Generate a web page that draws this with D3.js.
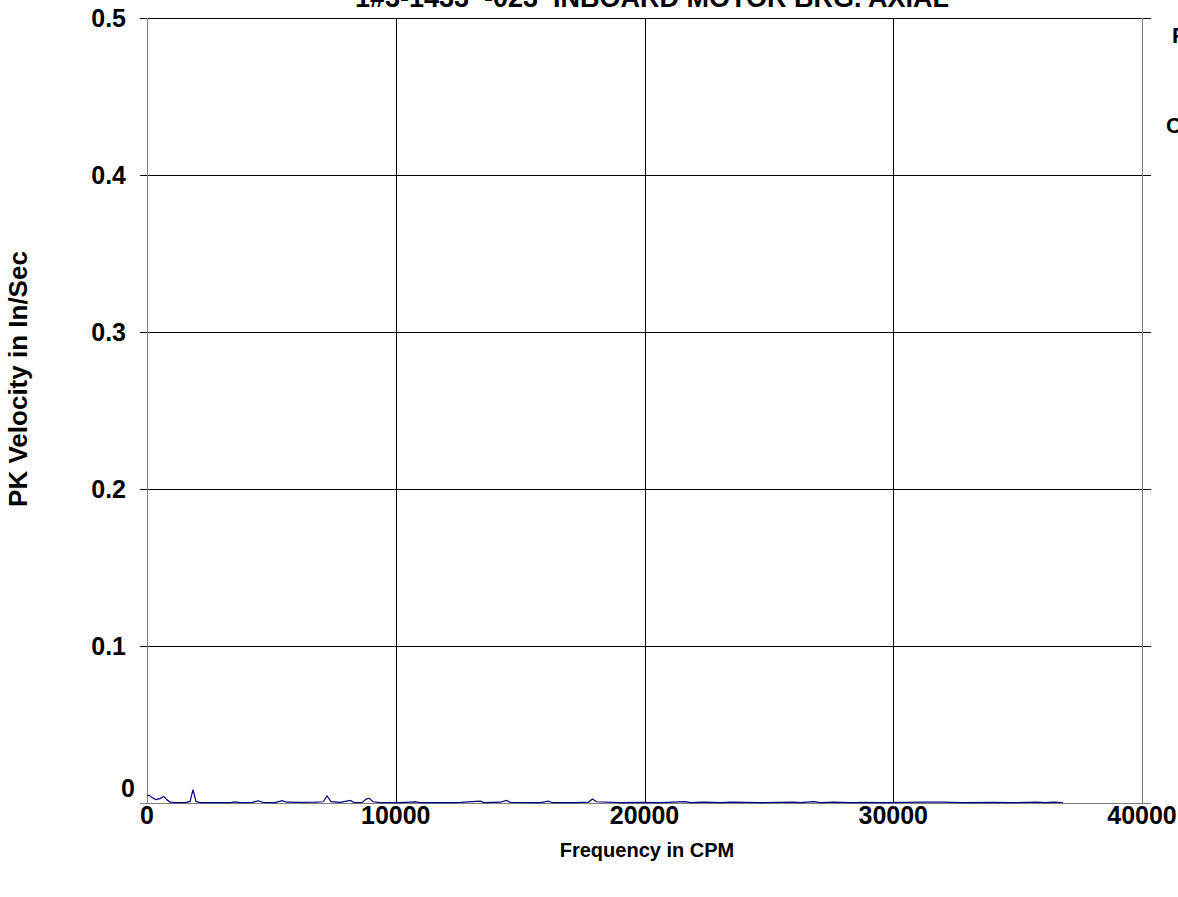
<!DOCTYPE html>
<html><head><meta charset="utf-8">
<script src="https://cdn.jsdelivr.net/npm/d3@7"></script>
<style>
html,body{margin:0;padding:0;background:#fff;overflow:hidden}
text{font-family:"Liberation Sans",Arial,sans-serif;font-weight:bold;fill:#000}
</style></head><body>
<svg id="c" width="1178" height="897"></svg>
<script>
const titleText = "1#3-1433  -023  INBOARD MOTOR BRG. AXIAL";
const xTitle = "Frequency in CPM";
const yTitle = "PK Velocity in In/Sec";
const sideLabels = ["F", "C"];
const xTicks = [0, 10000, 20000, 30000, 40000];
const yTicks = [0, 0.1, 0.2, 0.3, 0.4, 0.5];
const yTickLabels = ["0", "0.1", "0.2", "0.3", "0.4", "0.5"];
// spectrum: frequency (CPM) and peak velocity (in/sec)
const freqs = [0,80,200,360,520,680,800,930,1130,1530,1730,1850,1970,2130,2740,3340,3540,3740,4230,4470,4670,5150,5430,5630,6160,6760,7080,7240,7400,7770,8170,8330,8650,8810,8930,9090,9380,10180,10780,10990,12190,12600,13400,13560,14200,14450,14610,15810,16140,16300,17220,17750,17910,18070,19030,19840,20640,21650,21850,22370,23060,23460,24670,25990,26280,26800,27080,27600,28290,28810,29500,30580,31230,32030,32720,34040,34730,35730,36130,36460,36820];
const amps = [0.0045,0.005,0.0035,0.0022,0.0028,0.0042,0.002,0.0006,0.0003,0.0003,0.001,0.0085,0.001,0.0003,0.0002,0.0003,0.0007,0.0002,0.0004,0.0014,0.0004,0.0003,0.0015,0.0005,0.0004,0.0005,0.0008,0.0045,0.0009,0.0004,0.0016,0.0003,0.0004,0.0025,0.003,0.0008,0.0002,0.0002,0.0007,0.0002,0.0002,0.0004,0.0012,0.0003,0.0005,0.0016,0.0004,0.0002,0.0012,0.0002,0.0003,0.0006,0.0026,0.0008,0.0003,0.0004,0.0002,0.0009,0.0002,0.0005,0.0003,0.0005,0.0002,0.0005,0.0002,0.0009,0.0002,0.0005,0.0002,0.0004,0.0002,0.0004,0.0005,0.0006,0.0002,0.0004,0.0002,0.0006,0.0002,0.0005,0.0002];

const svg = d3.select("#c");
const L = 147, R = 1142, T = 18, B = 803;
const x = d3.scaleLinear().domain([0, 40000]).range([L, R]);
const y = d3.scaleLinear().domain([0, 0.5]).range([B, T]);

// horizontal gridlines
svg.append("g").selectAll("line").data(yTicks.filter(d => d > 0)).join("line")
  .attr("x1", L - 7).attr("x2", R + 9)
  .attr("y1", d => Math.round(y(d)) + 0.5).attr("y2", d => Math.round(y(d)) + 0.5)
  .attr("stroke", "#000").attr("stroke-width", 1);
// vertical gridlines
svg.append("g").selectAll("line").data(xTicks.filter(d => d > 0 && d < 40000)).join("line")
  .attr("x1", d => Math.round(x(d)) + 0.5).attr("x2", d => Math.round(x(d)) + 0.5)
  .attr("y1", T).attr("y2", B)
  .attr("stroke", "#000").attr("stroke-width", 1);
// axes frame lines
svg.append("line").attr("x1", L + 0.5).attr("x2", L + 0.5).attr("y1", T).attr("y2", B)
  .attr("stroke", "#808080");
svg.append("line").attr("x1", R + 0.5).attr("x2", R + 0.5).attr("y1", T).attr("y2", B)
  .attr("stroke", "#808080");
svg.append("line").attr("x1", L - 7).attr("x2", R + 9).attr("y1", B + 0.5).attr("y2", B + 0.5)
  .attr("stroke", "#808080");

// spectrum line
const line = d3.line().x((d, i) => x(freqs[i])).y(d => y(d));
svg.append("path").datum(amps).attr("d", line)
  .attr("fill", "none").attr("stroke", "#000080").attr("stroke-width", 1.2);

// y tick labels
svg.append("g").selectAll("text").data(yTicks).join("text")
  .attr("x", d => d === 0 ? 135 : 126).attr("y", d => y(d) + (d === 0 ? -6 : 9))
  .attr("text-anchor", "end").attr("font-size", 25)
  .text((d, i) => yTickLabels[i]);
// x tick labels
svg.append("g").selectAll("text").data(xTicks).join("text")
  .attr("x", d => x(d)).attr("y", 824)
  .attr("text-anchor", "middle").attr("font-size", 25)
  .text(d => d3.format("d")(d));

svg.append("text").attr("x", 647).attr("y", 857).attr("text-anchor", "middle")
  .attr("font-size", 20).text(xTitle);
svg.append("text").attr("transform", "translate(27,379) rotate(-90)")
  .attr("text-anchor", "middle").attr("font-size", 26).text(yTitle);
svg.append("text").attr("x", 652).attr("y", 7).attr("text-anchor", "middle")
  .attr("font-size", 27).attr("xml:space", "preserve").style("white-space", "pre").text(titleText);
svg.append("text").attr("x", 1172).attr("y", 43).attr("font-size", 22).text(sideLabels[0]);
svg.append("text").attr("x", 1166).attr("y", 133).attr("font-size", 22).text(sideLabels[1]);
</script>
</body></html>
